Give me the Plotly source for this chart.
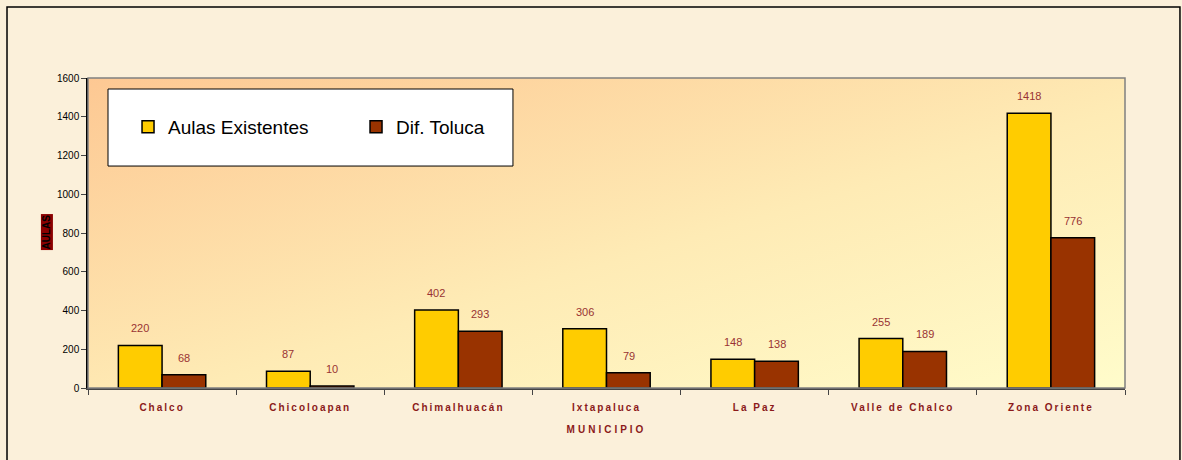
import plotly.graph_objects as go
import urllib.parse

categories = ["Chalco", "Chicoloapan", "Chimalhuacán", "Ixtapaluca", "La Paz", "Valle de Chalco", "Zona Oriente"]
aulas_existentes = [220, 87, 402, 306, 148, 255, 1418]
dif_toluca = [68, 10, 293, 79, 138, 189, 776]
series_names = ["Aulas Existentes", "Dif. Toluca"]
y_ticks = [0, 200, 400, 600, 800, 1000, 1200, 1400, 1600]

YELLOW = "#FFCC00"
BROWN = "#993300"
LABEL_RED = "#993333"
TICK_RED = "#8B1A1A"

fig = go.Figure()
fig.add_trace(go.Bar(x=categories, y=aulas_existentes, name=series_names[0],
                     marker=dict(color=YELLOW, line=dict(color="black", width=1.5))))
fig.add_trace(go.Bar(x=categories, y=dif_toluca, name=series_names[1],
                     marker=dict(color=BROWN, line=dict(color="black", width=1.5))))

# value labels
annotations = []
for vals, dx in ((aulas_existentes, -22), (dif_toluca, 22)):
    for c, v in zip(categories, vals):
        annotations.append(dict(x=c, y=v, xref="x", yref="y", text=str(v), showarrow=False,
                                xshift=dx, yshift=17, yanchor="middle",
                                font=dict(family="Arial", size=11, color=LABEL_RED)))

annotations.append(dict(x=-0.0463, y=0.503, xref="paper", yref="paper", text="<b>AULAS</b>",
                        showarrow=False, textangle=-90, bgcolor="#8B0000",
                        font=dict(family="Arial", size=10, color="black"), borderpad=0))

svg = ("<svg xmlns='http://www.w3.org/2000/svg' width='100' height='100' preserveAspectRatio='none'>"
       "<defs><linearGradient id='g' x1='0' y1='0' x2='1' y2='1'>"
       "<stop offset='0' stop-color='#FDC893'/><stop offset='0.55' stop-color='#FEEBB5'/>"
       "<stop offset='1' stop-color='#FFFCCB'/></linearGradient></defs>"
       "<rect width='100' height='100' fill='url(#g)'/></svg>")
src = "data:image/svg+xml;charset=utf-8," + urllib.parse.quote(svg)

fig.update_layout(
    width=1182, height=460,
    margin=dict(l=88, r=57, t=78, b=72),
    paper_bgcolor="#FBF0DA",
    plot_bgcolor="rgba(0,0,0,0)",
    barmode="group", bargap=0.41, bargroupgap=0,
    font=dict(family="Arial", color="black"),
    images=[dict(source=src, xref="paper", yref="paper", x=0, y=1, sizex=1, sizey=1,
                 sizing="stretch", layer="below", xanchor="left", yanchor="top")],
    shapes=[
        dict(type="rect", xref="paper", yref="paper", x0=0, x1=1, y0=0, y1=1,
             line=dict(color="#808080", width=1.5), layer="above"),
        dict(type="rect", xref="paper", yref="paper", x0=0.0193, x1=0.4098, y0=0.716, y1=0.9645,
             fillcolor="white", line=dict(color="black", width=1), layer="above"),
        dict(type="rect", xref="paper", yref="paper", x0=-0.0781, x1=1.053, y0=-0.245, y1=1.229,
             line=dict(color="black", width=1.5), layer="above"),
    ],
    legend=dict(orientation="h", x=0.0386, y=0.842, xanchor="left", yanchor="middle",
                bgcolor="rgba(0,0,0,0)", font=dict(family="Arial", size=19, color="black"),
                entrywidth=183, itemwidth=30),
    xaxis=dict(showline=True, linecolor="#444", linewidth=1.5, ticks="outside", tickson="boundaries",
               ticklen=5, tickcolor="#444", ticklabelstandoff=9,
               tickfont=dict(family="Arial", size=10, color=TICK_RED, weight="bold"),
               title=dict(text="<b>MUNICIPIO</b>", font=dict(family="Arial", size=10, color=TICK_RED),
                          standoff=14)),
    yaxis=dict(range=[0, 1600], tickvals=y_ticks, showgrid=False, zeroline=False,
               showline=True, linecolor="black", linewidth=1.5, ticks="outside", ticklen=5,
               tickfont=dict(family="Arial", size=10, color="black")),
    annotations=annotations,
)

post = """
document.body.style.margin='0';
document.querySelectorAll('.xtick text').forEach(function(t){t.style.letterSpacing='2px';});
document.querySelectorAll('.xtitle').forEach(function(t){t.style.letterSpacing='3px';});
"""

fig.write_html("out.html", post_script=post, config={"displayModeBar": False})
